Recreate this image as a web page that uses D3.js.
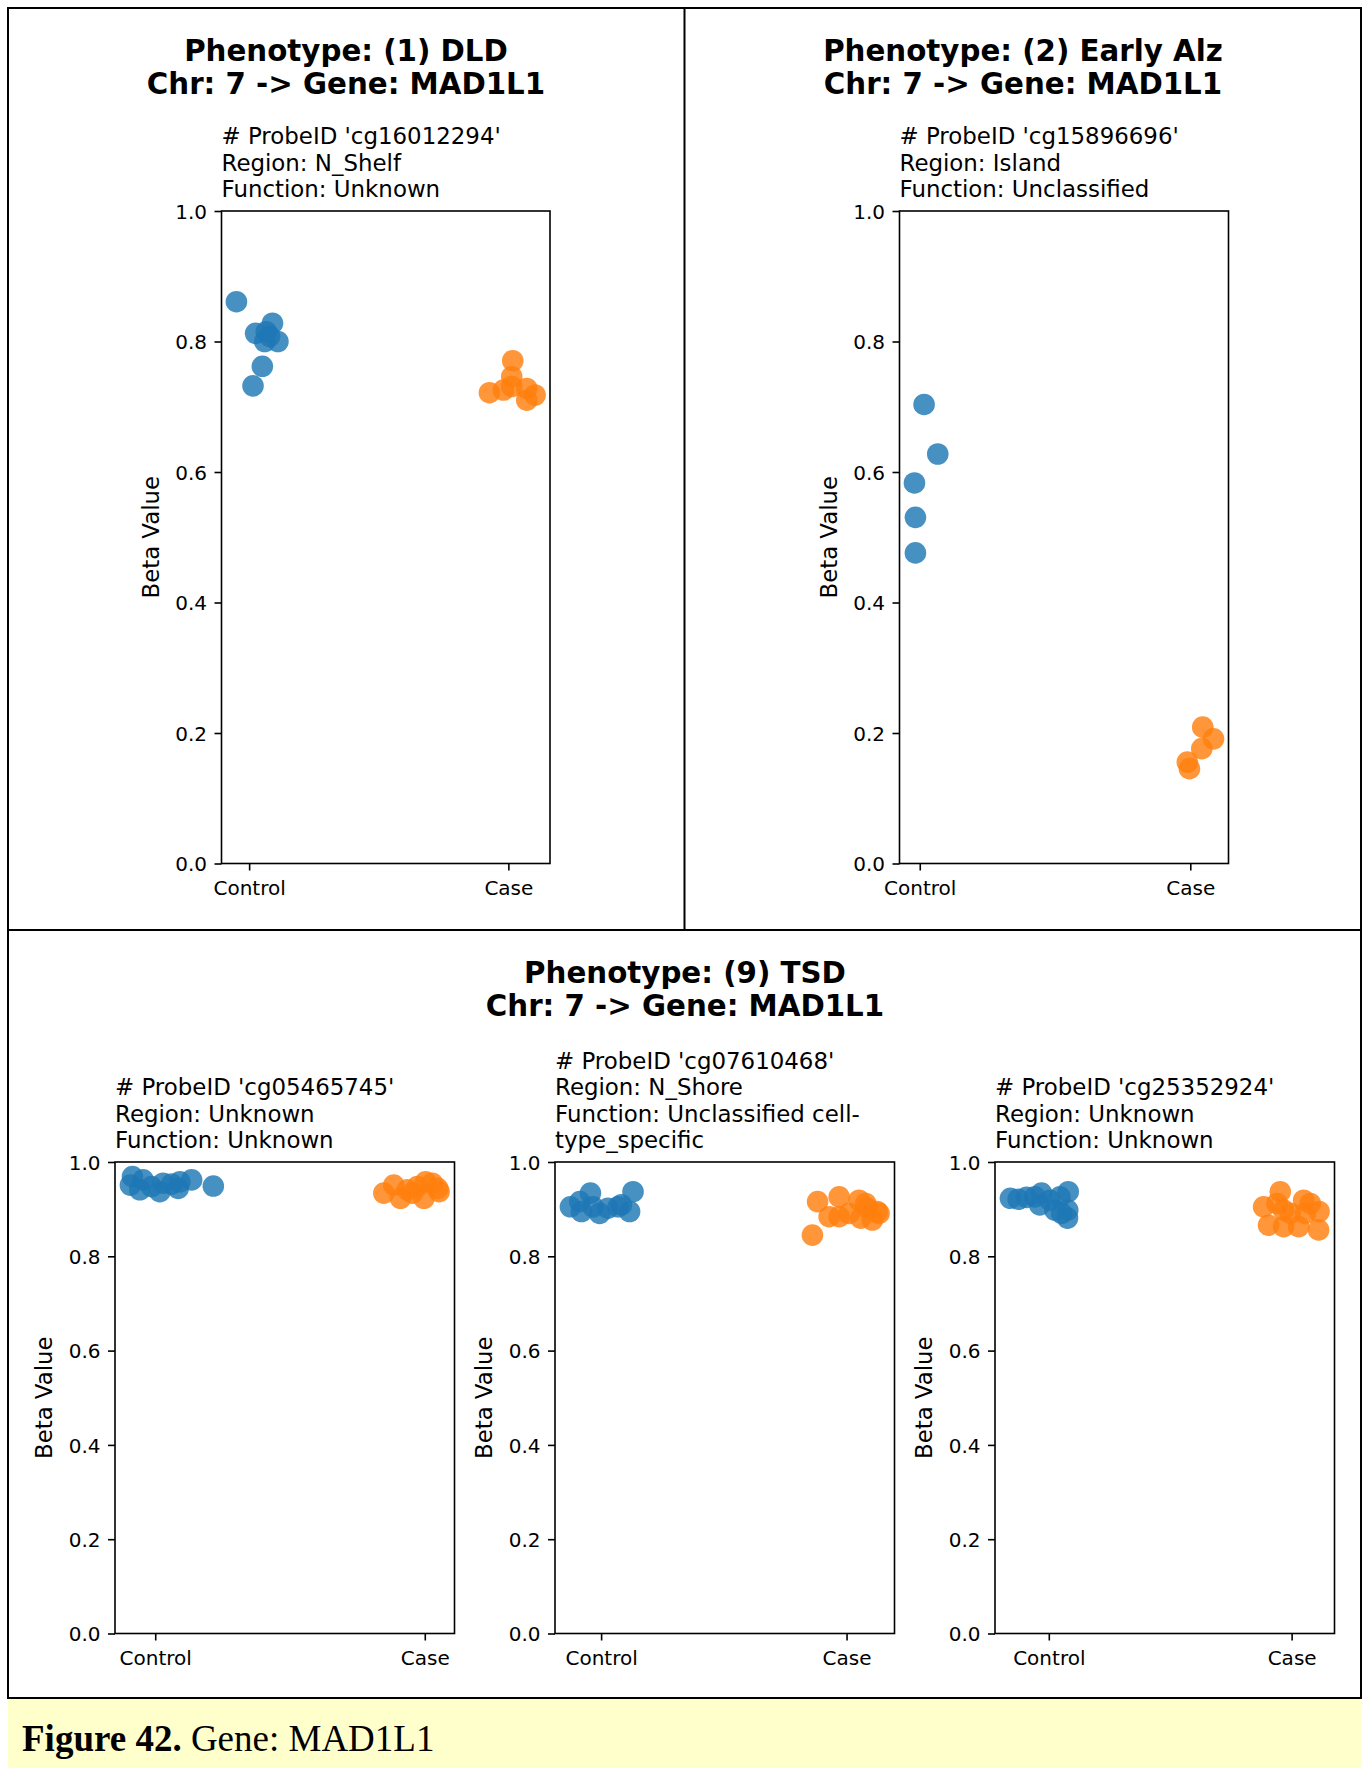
<!DOCTYPE html>
<html>
<head>
<meta charset="utf-8">
<script src="https://cdn.jsdelivr.net/npm/d3@7"></script>
<style>
  body { margin: 0; background: #ffffff; }
  svg { display: block; }
  text { font-family: "DejaVu Sans", sans-serif; fill: #000; }
</style>
</head>
<body>
<svg id="fig" width="1368" height="1768"></svg>
<script>
// ---- shared axis content ----
const categories = ["Control", "Case"];
const yTicks = [0, 0.2, 0.4, 0.6, 0.8, 1.0];
const yTickLabels = ["0.0", "0.2", "0.4", "0.6", "0.8", "1.0"];
const yLabel = "Beta Value";

// ---- figure headings ----
const dldTitle = ["Phenotype: (1) DLD", "Chr: 7 -> Gene: MAD1L1"];
const alzTitle = ["Phenotype: (2) Early Alz", "Chr: 7 -> Gene: MAD1L1"];
const tsdTitle = ["Phenotype: (9) TSD", "Chr: 7 -> Gene: MAD1L1"];

const dldProbe = ["# ProbeID 'cg16012294'", "Region: N_Shelf", "Function: Unknown"];
const alzProbe = ["# ProbeID 'cg15896696'", "Region: Island", "Function: Unclassified"];
const tsdProbeA = ["# ProbeID 'cg05465745'", "Region: Unknown", "Function: Unknown"];
const tsdProbeB = ["# ProbeID 'cg07610468'", "Region: N_Shore", "Function: Unclassified cell-", "type_specific"];
const tsdProbeC = ["# ProbeID 'cg25352924'", "Region: Unknown", "Function: Unknown"];

const captionBold = "Figure 42.";
const captionText = " Gene: MAD1L1";

// ---- beta values (and strip jitter offsets) per probe ----
const dldControl       = [0.861, 0.8125, 0.828, 0.815, 0.800, 0.800, 0.808, 0.762, 0.732];
const dldControlJitter = [-0.049, 0.025, 0.090, 0.066, 0.111, 0.060, 0.079, 0.051, 0.015];
const dldCase          = [0.7705, 0.746, 0.7215, 0.7256, 0.728, 0.718, 0.710, 0.731];
const dldCaseJitter    = [0.017, 0.013, -0.073, -0.019, 0.071, 0.103, 0.071, 0.013];

const alzControl       = [0.7035, 0.6276, 0.5832, 0.5305, 0.4760];
const alzControlJitter = [0.016, 0.0665, -0.0196, -0.016, -0.016];
const alzCase          = [0.209, 0.191, 0.176, 0.1555, 0.1454];
const alzCaseJitter    = [0.046, 0.086, 0.0425, -0.011, -0.003];

const tsdAControl       = [0.969, 0.951, 0.962, 0.941, 0.948, 0.937, 0.955, 0.953, 0.944, 0.958, 0.962, 0.949];
const tsdAControlJitter = [-0.0845, -0.092, -0.045, -0.057, -0.014, 0.017, 0.029, 0.061, 0.085, 0.0915, 0.135, 0.2155];
const tsdACase          = [0.934, 0.951, 0.923, 0.941, 0.948, 0.958, 0.923, 0.955, 0.937, 0.944, 0.934];
const tsdACaseJitter    = [-0.152, -0.115, -0.090, -0.065, -0.0275, 0.003, -0.003, 0.028, 0.053, 0.048, -0.046];

const tsdBControl       = [0.905, 0.916, 0.934, 0.895, 0.905, 0.891, 0.902, 0.905, 0.895, 0.937, 0.909];
const tsdBControlJitter = [-0.125, -0.087, -0.0435, -0.080, -0.033, -0.006, 0.028, 0.069, 0.116, 0.130, 0.0825];
const tsdBCase          = [0.916, 0.926, 0.919, 0.884, 0.884, 0.891, 0.881, 0.902, 0.877, 0.891, 0.912, 0.845, 0.895];
const tsdBCaseJitter    = [-0.118, -0.030, 0.051, -0.071, -0.030, 0.0106, 0.058, 0.085, 0.105, 0.1325, 0.078, -0.139, 0.125];

const tsdCControl       = [0.923, 0.921, 0.925, 0.926, 0.934, 0.909, 0.919, 0.898, 0.926, 0.937, 0.898, 0.881, 0.891];
const tsdCControlJitter = [-0.158, -0.126, -0.0916, -0.057, -0.030, -0.037, 0.0045, 0.025, 0.046, 0.080, 0.078, 0.077, 0.053];
const tsdCCase          = [0.937, 0.905, 0.912, 0.866, 0.863, 0.863, 0.919, 0.912, 0.891, 0.895, 0.856, 0.891, 0.898];
const tsdCCaseJitter    = [-0.047, -0.1155, -0.060, -0.095, -0.033, 0.029, 0.0495, 0.077, 0.0565, 0.113, 0.111, -0.0054, -0.033];

// ---- styling ----
const colors = ["#1f77b4", "#ff7f0e"];
const pointAlpha = 0.82;
const pointRadius = 10.8;
const tickFont = 20;
const labelFont = 22.8;
const probeFont = 22.9;
const probeLineGap = 26.5;
const titleFont = 29.3;

const svg = d3.select("#fig");

// Frame around the three phenotype blocks, and the caption band
svg.append("rect")
  .attr("x", 8).attr("y", 1698).attr("width", 1353).attr("height", 70)
  .attr("fill", "#ffffcc");
svg.append("rect")
  .attr("x", 8).attr("y", 8).attr("width", 1353).attr("height", 1690)
  .attr("fill", "none").attr("stroke", "#000").attr("stroke-width", 2);
svg.append("line").attr("x1", 684.5).attr("x2", 684.5).attr("y1", 8).attr("y2", 930)
  .attr("stroke", "#000").attr("stroke-width", 2);
svg.append("line").attr("x1", 8).attr("x2", 1361).attr("y1", 930).attr("y2", 930)
  .attr("stroke", "#000").attr("stroke-width", 2);

const cap = svg.append("text")
  .attr("x", 22).attr("y", 1751)
  .style("font-family", "'Liberation Serif', 'Times New Roman', serif")
  .style("font-size", "37px");
cap.append("tspan").attr("font-weight", "bold").text(captionBold);
cap.append("tspan").attr("xml:space", "preserve").text(captionText);

// Block heading (two bold lines, centered)
function drawHeading(cx, top, lines) {
  const t = svg.append("text")
    .attr("text-anchor", "middle")
    .style("font-size", titleFont + "px")
    .style("font-weight", "bold");
  lines.forEach((s, i) => {
    t.append("tspan").attr("x", cx).attr("y", top + 53 + i * 32.5).text(s);
  });
}

// One strip plot of beta values for Control vs Case
function drawPanel(box, probeLines, ctrl, ctrlJit, caseV, caseJit) {
  const g = svg.append("g");
  const xs = ctrlJit.map(d => 0 + d).concat(caseJit.map(d => 1 + d));
  const lo = d3.min(xs), hi = d3.max(xs), span = hi - lo;
  const x = d3.scaleLinear().domain([lo - 0.05 * span, hi + 0.05 * span])
    .range([box.left, box.right]);
  const y = d3.scaleLinear().domain([0, 1]).range([box.bottom, box.top]);

  // probe description, left-aligned above the axes
  const pt = g.append("text").style("font-size", probeFont + "px");
  const n = probeLines.length;
  probeLines.forEach((s, i) => {
    pt.append("tspan").attr("x", box.left)
      .attr("y", box.top - 14 - (n - 1 - i) * probeLineGap)
      .attr("xml:space", "preserve")
      .text(s);
  });

  // points
  const groups = [
    { vals: ctrl, jit: ctrlJit, pos: 0, color: colors[0] },
    { vals: caseV, jit: caseJit, pos: 1, color: colors[1] }
  ];
  groups.forEach(grp => {
    g.append("g").selectAll("circle")
      .data(grp.vals.map((v, i) => ({ v, j: grp.jit[i] })))
      .join("circle")
      .attr("cx", d => x(grp.pos + d.j))
      .attr("cy", d => y(d.v))
      .attr("r", pointRadius)
      .attr("fill", grp.color)
      .attr("fill-opacity", pointAlpha);
  });

  // axes
  const xAxis = d3.axisBottom(x)
    .tickValues([0, 1])
    .tickFormat((d, i) => categories[i])
    .tickSize(7).tickSizeOuter(0).tickPadding(10);
  const yAxis = d3.axisLeft(y)
    .tickValues(yTicks)
    .tickFormat((d, i) => yTickLabels[i])
    .tickSize(7).tickSizeOuter(0).tickPadding(7.5);

  const gx = g.append("g").attr("transform", `translate(0,${box.bottom})`).call(xAxis);
  const gy = g.append("g").attr("transform", `translate(${box.left},0)`).call(yAxis);
  [gx, gy].forEach(a => {
    a.select(".domain").remove();
    a.selectAll(".tick line").attr("stroke", "#000").attr("stroke-width", 1.6);
    a.selectAll(".tick text")
      .style("font-family", "'DejaVu Sans', sans-serif")
      .style("font-size", tickFont + "px")
      .attr("fill", "#000");
  });
  gy.selectAll(".tick text").attr("dy", "0.36em");

  // frame of the axes
  g.append("rect")
    .attr("x", box.left).attr("y", box.top)
    .attr("width", box.right - box.left).attr("height", box.bottom - box.top)
    .attr("fill", "none").attr("stroke", "#000").attr("stroke-width", 1.6);

  // y label
  const ly = (box.top + box.bottom) / 2, lx = box.left - 71;
  g.append("text")
    .attr("transform", `translate(${lx},${ly}) rotate(-90)`)
    .attr("text-anchor", "middle")
    .attr("dy", "0.36em")
    .style("font-size", labelFont + "px")
    .text(yLabel);
}

drawHeading(346, 8, dldTitle);
drawHeading(1023, 8, alzTitle);
drawHeading(685, 930, tsdTitle);

drawPanel({ left: 221.5, right: 550, top: 211, bottom: 863.5 }, dldProbe,
  dldControl, dldControlJitter, dldCase, dldCaseJitter);
drawPanel({ left: 899.5, right: 1228.5, top: 211, bottom: 863.5 }, alzProbe,
  alzControl, alzControlJitter, alzCase, alzCaseJitter);
drawPanel({ left: 115, right: 454.5, top: 1162, bottom: 1633.5 }, tsdProbeA,
  tsdAControl, tsdAControlJitter, tsdACase, tsdACaseJitter);
drawPanel({ left: 555, right: 894.5, top: 1162, bottom: 1633.5 }, tsdProbeB,
  tsdBControl, tsdBControlJitter, tsdBCase, tsdBCaseJitter);
drawPanel({ left: 995, right: 1334.5, top: 1162, bottom: 1633.5 }, tsdProbeC,
  tsdCControl, tsdCControlJitter, tsdCCase, tsdCCaseJitter);
</script>
</body>
</html>
